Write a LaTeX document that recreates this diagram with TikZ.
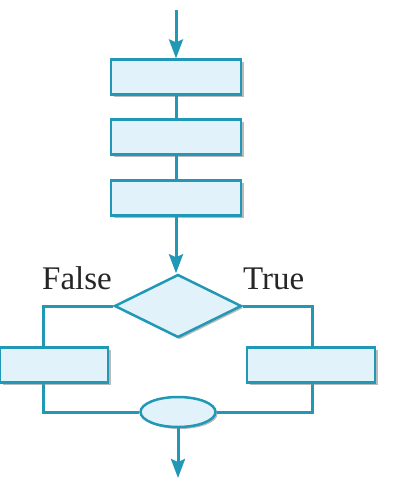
\documentclass[tikz,border=0pt]{standalone}
\usepackage{fontspec}
\setmainfont{Liberation Serif}
\usetikzlibrary{arrows.meta,shapes.geometric,shadows,backgrounds}
\definecolor{flowline}{RGB}{32,152,182}
\definecolor{flowfill}{RGB}{226,242,250}
\tikzset{
  x=1pt, y=-1pt,
  boxshape/.style={draw=flowline, fill=flowfill, line width=2.2pt, minimum height=35pt, inner sep=0pt,
    drop shadow={shadow xshift=2.5pt, shadow yshift=-2.5pt, fill=black!45, opacity=0.6}},
  decshape/.style={diamond, aspect=2, draw=flowline, fill=flowfill, line width=2.5pt, inner sep=0pt,
    minimum width=127pt, minimum height=63pt,
    drop shadow={shadow xshift=2pt, shadow yshift=-2pt, fill=black!45, opacity=0.6}},
  joinshape/.style={ellipse, draw=flowline, fill=flowfill, line width=2.5pt, inner sep=0pt,
    minimum width=75pt, minimum height=30pt,
    drop shadow={shadow xshift=2pt, shadow yshift=-2pt, fill=black!45, opacity=0.6}},
  flow/.style={draw=flowline, line width=3pt},
  flowarrow/.style={flow, -{Stealth[length=19pt,width=14pt,inset=3pt]}},
  lbl/.style={font=\fontsize{33}{33}\selectfont, text=black!85, inner sep=0pt, anchor=base west}
}
\begin{document}
\begin{tikzpicture}
\useasboundingbox (0,0) rectangle (400,480);
\node[boxshape, minimum width=130pt] (b1) at (176,77) {};
\node[boxshape, minimum width=130pt] (b2) at (176,137) {};
\node[boxshape, minimum width=130pt] (b3) at (176,198) {};
\node[decshape] (d) at (178,306) {};
\node[boxshape, minimum width=108pt] (lb) at (54,365) {};
\node[boxshape, minimum width=128pt] (rb) at (311,365) {};
\node[joinshape] (j) at (178,412) {};
\coordinate (top) at (176,10);
\coordinate (bot) at (178,478);
\coordinate (lc) at (43,412);
\coordinate (rc) at (312,412);
\node[lbl] (fl) at (42,289) {False};
\node[lbl] (tl) at (243,289) {True};
\begin{scope}[on background layer]
\draw[flow] (d.west) -| (lc) -- (j.west);
\draw[flow] (d.east) -| (rc) -- (j.east);
\end{scope}
\draw[flowarrow] (top) -- (b1.north);
\draw[flow] (b1.south) -- (b2.north);
\draw[flow] (b2.south) -- (b3.north);
\draw[flowarrow] (b3.south) -- (b3.south |- d.north);
\draw[flowarrow] (j.south) -- (bot);
\end{tikzpicture}
\end{document}
